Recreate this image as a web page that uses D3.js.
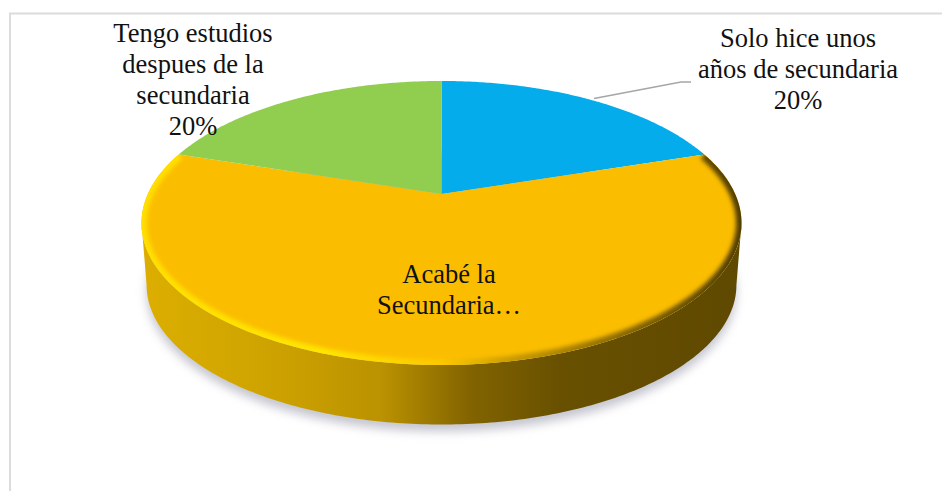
<!DOCTYPE html>
<html>
<head>
<meta charset="utf-8">
<script src="https://cdn.jsdelivr.net/npm/d3@7"></script>
<style>
  html, body { margin: 0; padding: 0; background: #fff; }
  svg { display: block; }
  text { font-family: "Liberation Serif", serif; font-size: 26.5px; fill: #111; text-anchor: middle; }
</style>
</head>
<body>
<svg id="chart" width="942" height="491"></svg>
<script>
// data
const categories = ['Solo hice unos años de secundaria', 'Acabé la Secundaria', 'Tengo estudios despues de la secundaria'];
const values = [20, 60, 20];
const sliceColors = ['#04acec', '#fbbd00', '#91cd4e'];
const labelLines = [
    ['Solo hice unos', 'años de secundaria', '20%'],
    ['Acabé la', 'Secundaria…'],
    ['Tengo estudios', 'despues de la', 'secundaria', '20%']
];

const svg = d3.select('#chart');
const defs = svg.append('defs');

// disc in perspective: u to the right, v away from the viewer
const center = { x: 441.5, y: 194 };
const spreadX = 293.7, spreadY = -96.5, tilt = 0.204;
const depth = 62, bottomScale = 0.983, ellipseMidY = 223;

function project(angle) {
    const u = Math.sin(angle), v = Math.cos(angle), w = 1 + tilt * v;
    return [center.x + spreadX * u / w, (center.y + spreadY * v) / w];
}
function projectBottom(angle) {
    const p = project(angle);
    return [center.x + (p[0] - center.x) * bottomScale,
            ellipseMidY + depth + (p[1] - ellipseMidY) * bottomScale];
}

const line = d3.line();
const angles = (a0, a1, n = 120) => d3.range(n + 1).map(i => a0 + (a1 - a0) * i / n);
const fullCircle = angles(0, 2 * Math.PI, 360);

// gradients
function hGradient(id, stops) {
    const g = defs.append('linearGradient').attr('id', id)
        .attr('gradientUnits', 'userSpaceOnUse')
        .attr('x1', 141).attr('x2', 742).attr('y1', 0).attr('y2', 0);
    stops.forEach(s => g.append('stop').attr('offset', s[0]).attr('stop-color', s[1]));
}
hGradient('sideFill', [[0, '#dcae00'], [0.2, '#cfa400'], [0.4, '#bb9200'], [0.55, '#816300'], [0.7, '#685000'], [1, '#5f4900']]);
hGradient('rimFill', [[0, '#ffdf00'], [0.3, '#ffe600'], [0.5, '#fcc800'], [0.62, '#c89a00'], [0.8, '#8a6a00'], [1, '#4f3c00']]);

defs.append('filter').attr('id', 'shadowBlur')
    .attr('x', '-10%').attr('y', '-10%').attr('width', '120%').attr('height', '120%')
    .append('feGaussianBlur').attr('stdDeviation', 5);
defs.append('filter').attr('id', 'rimBlur')
    .attr('x', '-10%').attr('y', '-10%').attr('width', '120%').attr('height', '120%')
    .append('feGaussianBlur').attr('stdDeviation', 2);
defs.append('clipPath').attr('id', 'topClip')
    .append('path').attr('d', line(fullCircle.map(project)) + 'Z');

// chart frame, open to the right and the bottom
svg.append('path')
    .attr('d', 'M10,491V13.5H942')
    .attr('fill', 'none')
    .attr('stroke', '#dcdcdc')
    .attr('stroke-width', 2);

// shadow under the disc
svg.append('path')
    .attr('d', line(fullCircle.map(projectBottom)) + 'Z')
    .attr('transform', 'translate(0,7)')
    .attr('fill', '#c6c6d0')
    .attr('filter', 'url(#shadowBlur)');

// side wall between the widest points of the top and bottom edges
const widest = Math.acos(-tilt);
const frontTop = angles(widest, 2 * Math.PI - widest, 200).map(project);
const frontBottom = angles(2 * Math.PI - widest, widest, 200).map(projectBottom);
svg.append('path')
    .attr('d', line(frontTop.concat(frontBottom)) + 'Z')
    .attr('fill', 'url(#sideFill)');

// slices from d3.pie, clockwise from the top
const pie = d3.pie().sort(null).value(d => d);
const arcs = pie(values);
const slices = svg.append('g');
slices.selectAll('path')
    .data(arcs)
    .join('path')
    .attr('d', d => line([[center.x, center.y]].concat(angles(d.startAngle, d.endAngle).map(project))) + 'Z')
    .attr('fill', (d, i) => sliceColors[i]);

// bevel on the rim of the big slice
const big = arcs[1];
svg.append('g')
    .attr('clip-path', 'url(#topClip)')
    .append('path')
    .attr('d', line(angles(big.startAngle, big.endAngle, 240).map(project)))
    .attr('fill', 'none')
    .attr('stroke', 'url(#rimFill)')
    .attr('stroke-width', 11)
    .attr('filter', 'url(#rimBlur)');

// leader line of the first label
svg.append('path')
    .attr('d', 'M594,98.5L681,82H691')
    .attr('fill', 'none')
    .attr('stroke', '#a6a6a6')
    .attr('stroke-width', 1.5);

// labels
const labelPos = [
    { x: 798, y: 46.5 },
    { x: 449, y: 283 },
    { x: 193, y: 42 }
];
const lineStep = 31;
labelLines.forEach((lines, i) => {
    const t = svg.append('text').attr('transform', `translate(${labelPos[i].x},${labelPos[i].y})`);
    lines.forEach((s, j) => t.append('tspan').attr('x', 0).attr('y', j * lineStep).text(s));
});
</script>
</body>
</html>
